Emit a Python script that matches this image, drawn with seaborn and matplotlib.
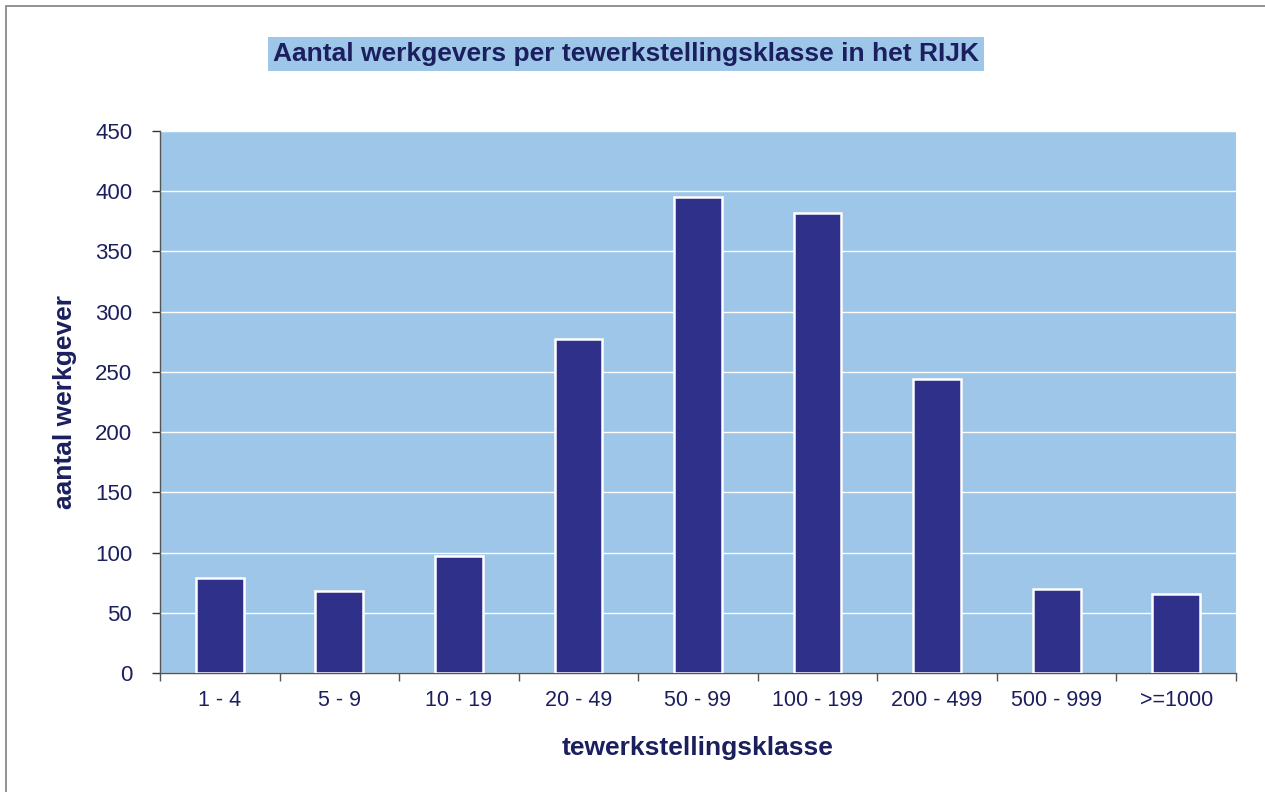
import matplotlib
matplotlib.use("Agg")
import matplotlib.pyplot as plt
import seaborn as sns
import pandas as pd
from matplotlib.patches import Rectangle

categories = ["1 - 4", "5 - 9", "10 - 19", "20 - 49", "50 - 99",
              "100 - 199", "200 - 499", "500 - 999", ">=1000"]
values = [79, 68, 97, 277, 395, 382, 244, 70, 66]
yticks = [0, 50, 100, 150, 200, 250, 300, 350, 400, 450]

title = "Aantal werkgevers per tewerkstellingsklasse in het RIJK"
xlabel = "tewerkstellingsklasse"
ylabel = "aantal werkgever"

NAVY = "#1c1f5e"
BAR = "#2e3089"
BG = "#9dc6e8"

sns.set_theme(style="white")
plt.rcParams["font.family"] = ["Liberation Sans", "DejaVu Sans"]

df = pd.DataFrame({"klasse": categories, "aantal": values})

fig = plt.figure(figsize=(12.65, 7.92), dpi=100)
ax = fig.add_axes([160/1265, 1-673/792, (1236-160)/1265, (673-131)/792])

sns.barplot(data=df, x="klasse", y="aantal", ax=ax, color=BAR, saturation=1,
            width=0.4, edgecolor="white", linewidth=1.8, zorder=3)

ax.set_facecolor(BG)
ax.set_ylim(0, 450)
ax.set_xlim(-0.5, len(categories) - 0.5)
ax.set_yticks(yticks)
ax.yaxis.grid(True, color="white", linewidth=1.0, zorder=1)
ax.set_axisbelow(True)

for s in ["top", "right"]:
    ax.spines[s].set_visible(False)
for s in ["left", "bottom"]:
    ax.spines[s].set_visible(True)
    ax.spines[s].set_color("#555555")
    ax.spines[s].set_linewidth(1.0)

ax.tick_params(axis="y", which="major", length=6, width=1, color="#333333",
               labelsize=16, labelcolor=NAVY, pad=14, left=True, direction="out")
ax.tick_params(axis="x", which="major", length=0, labelsize=15.5, labelcolor=NAVY, pad=12)
ax.set_xticks([i - 0.5 for i in range(len(categories) + 1)], minor=True)
ax.tick_params(axis="x", which="minor", length=6, width=1, color="#555555",
               bottom=True, direction="out")

ax.set_xlabel(xlabel, fontsize=19, fontweight="bold", color=NAVY, labelpad=18)
ax.set_ylabel(ylabel, fontsize=19, fontweight="bold", color=NAVY, labelpad=13)

fig.text(626/1265, 1-54/792, title, ha="center", va="center", fontsize=19,
         fontweight="bold", color=NAVY,
         bbox=dict(boxstyle="square,pad=0.2", facecolor=BG, edgecolor="none"))

fig.patches.append(Rectangle((6/1265, -0.05), 1.1, 1-6/792+0.05,
                             transform=fig.transFigure, fill=False,
                             edgecolor="#7f7f7f", linewidth=1.2, zorder=0))

fig.savefig("out.png", dpi=100)
